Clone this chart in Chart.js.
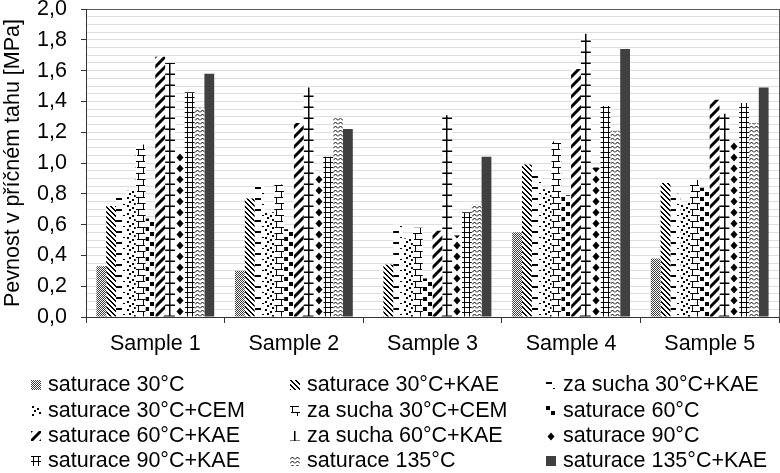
<!DOCTYPE html>
<html>
<head>
<meta charset="utf-8">
<script src="https://cdn.jsdelivr.net/npm/chart.js@4.4.1/dist/chart.umd.min.js"></script>
<style>
    html, body { margin: 0; padding: 0; background: #fff; }
    #wrap { position: relative; width: 780px; height: 473px; font-family: "Liberation Sans", Arial, sans-serif; }
    #strengthChart { position: absolute; left: 0; top: 0; }
    .legend-icon { position: absolute; width: 10px; height: 10px; }
    .legend-text { position: absolute; font-size: 21.5px; line-height: 21.5px; color: #000; white-space: nowrap; }
</style>
</head>
<body>
<div id="wrap">
    <canvas id="strengthChart" width="780" height="473"></canvas>
    <div id="legend"></div>
</div>
<script>
// ================= Data =================
const categories = ["Sample 1", "Sample 2", "Sample 3", "Sample 4", "Sample 5"];

const seriesNames = [
    "saturace 30°C",
    "saturace 30°C+KAE",
    "za sucha 30°C+KAE",
    "saturace 30°C+CEM",
    "za sucha 30°C+CEM",
    "saturace 60°C",
    "saturace 60°C+KAE",
    "za sucha 60°C+KAE",
    "saturace 90°C",
    "saturace 90°C+KAE",
    "saturace 135°C",
    "saturace 135°C+KAE"
];

const sat30 = [0.33, 0.30, null, 0.55, 0.38];
const sat30Kae = [0.72, 0.77, 0.34, 0.99, 0.87];
const sucha30Kae = [0.79, 0.85, 0.60, 0.92, 0.80];
const sat30Cem = [0.82, 0.68, 0.51, 0.83, 0.74];
const sucha30Cem = [1.12, 0.86, 0.58, 1.14, 0.89];
const sat60 = [0.64, 0.57, 0.25, 0.79, 0.84];
const sat60Kae = [1.69, 1.26, 0.56, 1.61, 1.41];
const sucha60Kae = [1.65, 1.49, 1.31, 1.84, 1.32];
const sat90 = [1.08, 0.94, 0.53, 0.97, 1.14];
const sat90Kae = [1.46, 1.04, 0.68, 1.37, 1.39];
const sat135 = [1.36, 1.29, 0.73, 1.21, 1.26];
const sat135Kae = [1.58, 1.22, 1.04, 1.74, 1.49];

const seriesValues = [sat30, sat30Kae, sucha30Kae, sat30Cem, sucha30Cem, sat60,
    sat60Kae, sucha60Kae, sat90, sat90Kae, sat135, sat135Kae];

const yTicks = [0, 0.2, 0.4, 0.6, 0.8, 1.0, 1.2, 1.4, 1.6, 1.8, 2.0];

const FONT = '"Liberation Sans", Arial, sans-serif';

// ================= Pattern tiles =================
function makeTile(w, h, draw) {
    const c = document.createElement("canvas");
    c.width = w;
    c.height = h;
    const g = c.getContext("2d");
    g.fillStyle = "#fff";
    g.fillRect(0, 0, w, h);
    g.fillStyle = "#000";
    g.strokeStyle = "#000";
    draw(g, w, h);
    return c;
}

const tiles = [
    // saturace 30°C - fine grey checker
    makeTile(4, 4, (g) => {
        g.fillStyle = "#3c3c3c";
        for (let y = 0; y < 4; y++)
            for (let x = 0; x < 4; x++)
                if ((x + y) % 2 === 0) g.fillRect(x, y, 1, 1);
    }),
    // saturace 30°C+KAE - backslash
    makeTile(5, 5, (g) => {
        for (let i = 0; i < 5; i++) {
            g.fillRect(i, i, 1, 1);
            g.fillRect((i + 1) % 5, i, 1, 1);
        }
    }),
    // za sucha 30°C+KAE - dashes
    makeTile(10, 11, (g) => {
        g.fillRect(0, 2, 6, 2);
        g.fillRect(7, 8, 2, 1);
    }),
    // saturace 30°C+CEM - dots
    makeTile(10, 8, (g) => {
        g.fillRect(1, 0, 2, 2);
        g.fillRect(6, 2, 2, 2);
        g.fillRect(3, 4, 2, 2);
        g.fillRect(8, 6, 2, 2);
    }),
    // za sucha 30°C+CEM - brick
    makeTile(10, 12, (g) => {
        g.fillRect(0, 0, 9, 1);
        g.fillRect(2, 0, 1, 6);
        g.fillRect(1, 6, 9, 1);
        g.fillRect(7, 6, 1, 6);
    }),
    // saturace 60°C - large checker
    makeTile(10, 10, (g) => {
        g.fillRect(0, 0, 4, 4);
        g.fillRect(5, 5, 4, 4);
    }),
    // saturace 60°C+KAE - thick slash
    makeTile(10, 10, (g) => {
        g.lineWidth = 3;
        g.beginPath();
        g.moveTo(-1, 11); g.lineTo(11, -1);
        g.moveTo(-1, 1); g.lineTo(1, -1);
        g.moveTo(9, 11); g.lineTo(11, 9);
        g.stroke();
    }),
    // za sucha 60°C+KAE - vertical line with ticks
    makeTile(10, 11, (g) => {
        g.fillRect(4, 0, 1.5, 11);
        g.fillRect(0, 9.5, 10, 1.5);
    }),
    // saturace 90°C - diamonds
    makeTile(10, 11, (g) => {
        g.beginPath();
        g.moveTo(5, 1.5); g.lineTo(8.5, 5.5); g.lineTo(5, 9.5); g.lineTo(1.5, 5.5);
        g.closePath();
        g.fill();
    }),
    // saturace 90°C+KAE - grid
    makeTile(10, 5, (g) => {
        g.fillRect(2, 0, 1, 5);
        g.fillRect(7, 0, 1, 5);
        g.fillRect(0, 0, 10, 1);
    }),
    // saturace 135°C - zigzag
    makeTile(5, 4, (g) => {
        g.lineWidth = 1;
        g.beginPath();
        g.moveTo(0, 3.5); g.lineTo(2.5, 1); g.lineTo(5, 3.5);
        g.stroke();
    }),
    null // saturace 135°C+KAE - solid
];

const SOLID = "#404040";

// keep each bar's pattern anchored at its own left edge / baseline
const alignPatterns = {
    id: "alignPatterns",
    beforeDatasetsDraw(chart) {
        const g = chart.ctx;
        chart.data.datasets.forEach((ds, i) => {
            if (!tiles[i]) return;
            chart.getDatasetMeta(i).data.forEach(bar => {
                const p = g.createPattern(tiles[i], "repeat");
                p.setTransform(new DOMMatrix().translate(Math.round(bar.x - bar.width / 2), Math.round(bar.base)));
                bar.options.backgroundColor = p;
            });
        });
    }
};

function isMajor(v) {
    return yTicks.some(t => Math.abs(t - v) < 1e-6);
}

// ================= Chart =================
const strengthChart = new Chart(document.getElementById("strengthChart"), {
    type: "bar",
    data: {
        labels: categories,
        datasets: seriesNames.map((name, i) => ({
            label: name,
            data: seriesValues[i],
            backgroundColor: () => SOLID,
            borderWidth: 0,
            categoryPercentage: 0.85,
            barPercentage: 1
        }))
    },
    options: {
        responsive: false,
        animation: false,
        devicePixelRatio: 1,
        layout: {
            padding: { top: 9, right: 1, left: 0, bottom: 0 }
        },
        plugins: {
            legend: { display: false },
            tooltip: { enabled: false }
        },
        scales: {
            x: {
                grid: {
                    offset: true,
                    drawOnChartArea: false,
                    tickLength: 6,
                    color: "#333"
                },
                border: { color: "#333" },
                ticks: {
                    color: "#000",
                    padding: 8,
                    font: { family: FONT, size: 21.5 }
                },
                afterFit: (scale) => {
                    scale.height = 473 - 317;
                    scale.paddingLeft = 0;
                    scale.paddingRight = 0;
                }
            },
            y: {
                min: 0,
                max: 2,
                ticks: {
                    stepSize: 0.05,
                    autoSkip: false,
                    padding: 14,
                    color: "#000",
                    font: { family: FONT, size: 21.5 },
                    callback: (v) => isMajor(v) ? v.toFixed(1).replace(".", ",") : ""
                },
                grid: {
                    color: (ctx) => ctx.tick && Math.abs(ctx.tick.value - 2) < 1e-6 ? "#595959" : "#dedede",
                    tickLength: 5,
                    tickColor: (ctx) => ctx.tick && isMajor(ctx.tick.value) ? "#333" : "rgba(0,0,0,0)"
                },
                border: { color: "#333" },
                title: {
                    display: true,
                    text: "Pevnost v příčném tahu [MPa]",
                    color: "#000",
                    padding: { top: 0, bottom: 0 },
                    font: { family: FONT, size: 21.5 }
                },
                afterFit: (scale) => {
                    scale.width = 86;
                    scale.paddingTop = 0;
                    scale.paddingBottom = 0;
                }
            },
            y2: {
                position: "right",
                min: 0,
                max: 2,
                ticks: { display: false },
                grid: { display: false, drawTicks: false },
                border: { color: "#595959" },
                afterFit: (scale) => {
                    scale.width = 0;
                    scale.paddingTop = 0;
                    scale.paddingBottom = 0;
                }
            }
        }
    },
    plugins: [alignPatterns]
});

// ================= Legend =================
const legendCols = [48, 307, 563];
const legendRows = [384.7, 410.8, 435.5, 460.5];
const legendBox = document.getElementById("legend");

seriesNames.forEach((name, i) => {
    const col = i % 3;
    const row = Math.floor(i / 3);
    const x = legendCols[col];
    const cy = legendRows[row];

    const icon = document.createElement("canvas");
    icon.className = "legend-icon";
    icon.width = 10;
    icon.height = 10;
    icon.style.left = (x - 17) + "px";
    icon.style.top = (cy - 5) + "px";
    const g = icon.getContext("2d");
    g.fillStyle = tiles[i] ? g.createPattern(tiles[i], "repeat") : SOLID;
    g.fillRect(0, 0, 10, 10);
    legendBox.appendChild(icon);

    const label = document.createElement("div");
    label.className = "legend-text";
    label.textContent = name;
    label.style.left = x + "px";
    label.style.top = (cy - 10.5) + "px";
    legendBox.appendChild(label);
});
</script>
</body>
</html>
